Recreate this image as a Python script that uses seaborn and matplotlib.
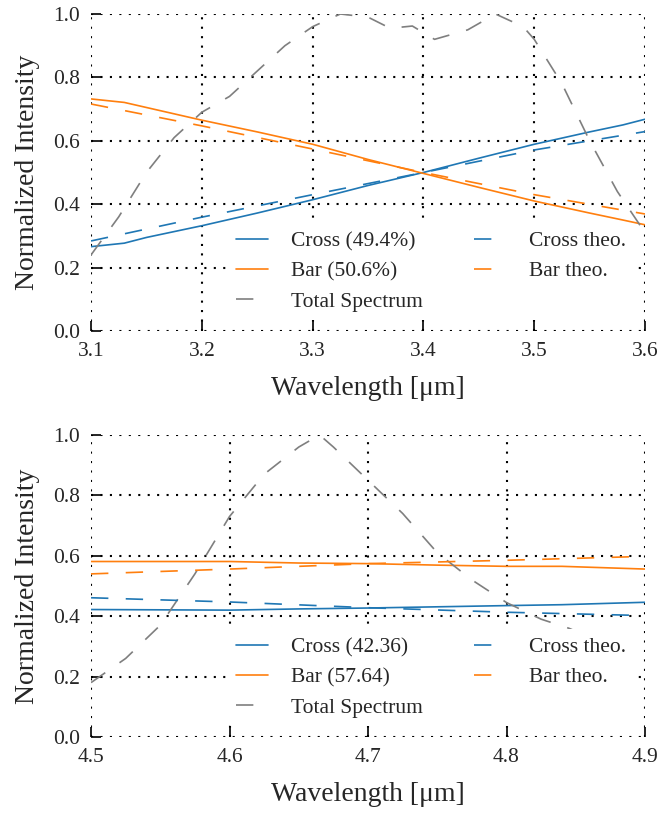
import matplotlib
matplotlib.use("Agg")
import matplotlib.pyplot as plt
import numpy as np
import seaborn as sns

BLUE = "#1f77b4"
ORANGE = "#ff7f0e"
GRAY = "#7f7f7f"

# ---- top panel (3.1 - 3.6 um) ----
wl_top = [3.10, 3.13, 3.15, 3.20, 3.25, 3.30, 3.35, 3.40, 3.45, 3.50, 3.55, 3.58, 3.60]
cross_top = [0.266, 0.277, 0.295, 0.332, 0.372, 0.414, 0.459, 0.500, 0.545, 0.589, 0.628, 0.650, 0.668]
bar_top = [0.732, 0.721, 0.705, 0.665, 0.628, 0.589, 0.541, 0.497, 0.453, 0.410, 0.372, 0.350, 0.335]

wl_theo_top = [3.10, 3.20, 3.30, 3.40, 3.50, 3.60]
cross_theo_top = [0.284, 0.359, 0.430, 0.500, 0.571, 0.629]
bar_theo_top = [0.716, 0.647, 0.574, 0.500, 0.430, 0.369]

wl_total_top = [3.100, 3.125, 3.150, 3.175, 3.200, 3.225, 3.250, 3.275, 3.300, 3.325,
                3.350, 3.370, 3.390, 3.410, 3.440, 3.465, 3.490, 3.500, 3.525, 3.550,
                3.575, 3.600]
total_top = [0.24, 0.36, 0.50, 0.61, 0.69, 0.74, 0.82, 0.90, 0.96, 1.00,
             0.99, 0.955, 0.962, 0.92, 0.95, 1.00, 0.96, 0.92, 0.78, 0.60,
             0.44, 0.31]

# ---- bottom panel (4.5 - 4.9 um) ----
wl_bot = [4.50, 4.60, 4.65, 4.70, 4.75, 4.80, 4.84, 4.90]
cross_bot = [0.422, 0.420, 0.424, 0.427, 0.431, 0.435, 0.438, 0.446]
bar_bot = [0.581, 0.581, 0.576, 0.574, 0.569, 0.565, 0.565, 0.556]

wl_theo_bot = [4.50, 4.60, 4.70, 4.80, 4.90]
cross_theo_bot = [0.461, 0.447, 0.428, 0.413, 0.402]
bar_theo_bot = [0.540, 0.556, 0.574, 0.585, 0.598]

wl_total_bot = [4.500, 4.525, 4.550, 4.575, 4.600, 4.625, 4.650, 4.665, 4.675, 4.700,
                4.725, 4.750, 4.775, 4.800, 4.825, 4.845, 4.860]
total_bot = [0.18, 0.26, 0.37, 0.54, 0.73, 0.87, 0.96, 1.00, 0.96, 0.85,
             0.74, 0.61, 0.52, 0.445, 0.39, 0.36, 0.33]

panels = [
    dict(wl=wl_top, cross=cross_top, bar=bar_top,
         wl_theo=wl_theo_top, cross_theo=cross_theo_top, bar_theo=bar_theo_top,
         wl_total=wl_total_top, total=total_top,
         cross_lbl="Cross (49.4%)", bar_lbl="Bar (50.6%)",
         xlim=(3.1, 3.6), xticks=[3.1, 3.2, 3.3, 3.4, 3.5, 3.6]),
    dict(wl=wl_bot, cross=cross_bot, bar=bar_bot,
         wl_theo=wl_theo_bot, cross_theo=cross_theo_bot, bar_theo=bar_theo_bot,
         wl_total=wl_total_bot, total=total_bot,
         cross_lbl="Cross (42.36)", bar_lbl="Bar (57.64)",
         xlim=(4.5, 4.9), xticks=[4.5, 4.6, 4.7, 4.8, 4.9]),
]

sns.set_style("white")
plt.rcParams["font.family"] = ["Liberation Serif", "DejaVu Serif"]
plt.rcParams["lines.scale_dashes"] = False

fig = plt.figure(figsize=(6.62, 8.13), dpi=100)
positions = [[0.1375, 0.5929, 0.8369, 0.3899], [0.1375, 0.0935, 0.8369, 0.3715]]

DASH = (0, (12.5, 12.5))
TICK_FS = 15.5

for pos, p in zip(positions, panels):
    ax = fig.add_axes(pos)
    sns.lineplot(x=p["wl"], y=p["cross"], ax=ax, color=BLUE, lw=1.2, label=p["cross_lbl"])
    sns.lineplot(x=p["wl"], y=p["bar"], ax=ax, color=ORANGE, lw=1.2, label=p["bar_lbl"])
    sns.lineplot(x=p["wl_total"], y=p["total"], ax=ax, color=GRAY, lw=1.2,
                 linestyle=DASH, label="Total Spectrum")
    sns.lineplot(x=p["wl_theo"], y=p["cross_theo"], ax=ax, color=BLUE, lw=1.2,
                 linestyle=DASH, label="Cross theo.")
    sns.lineplot(x=p["wl_theo"], y=p["bar_theo"], ax=ax, color=ORANGE, lw=1.2,
                 linestyle=DASH, label="Bar theo.")

    ax.set_xlim(*p["xlim"])
    ax.set_ylim(0, 1.0)
    ax.set_xticks(p["xticks"])
    ax.set_yticks([0.0, 0.2, 0.4, 0.6, 0.8, 1.0])
    ax.xaxis.set_major_formatter(matplotlib.ticker.FormatStrFormatter("%.1f"))
    ax.yaxis.set_major_formatter(matplotlib.ticker.FormatStrFormatter("%.1f"))
    for s in ax.spines.values():
        s.set_visible(False)
    ax.grid(True, color="black", linestyle=(0, (1.5, 5.3)), linewidth=1.5)
    ax.tick_params(axis="both", direction="in", length=7.5, width=1.2, color="black",
                   labelsize=TICK_FS, pad=8, left=True, bottom=True, right=False, top=False)
    ax.set_xlabel("Wavelength [μm]", fontsize=20, labelpad=11)
    ax.set_ylabel("Normalized Intensity", fontsize=20, labelpad=9)

    leg = ax.legend(ncol=2, loc="lower right", fontsize=TICK_FS, frameon=True,
                    facecolor="white", edgecolor="none", framealpha=1,
                    handlelength=1.5, handletextpad=1.05, columnspacing=2.37,
                    labelspacing=0.47)
    leg.get_frame().set_linewidth(0)

fig.savefig("out.png", dpi=100)
